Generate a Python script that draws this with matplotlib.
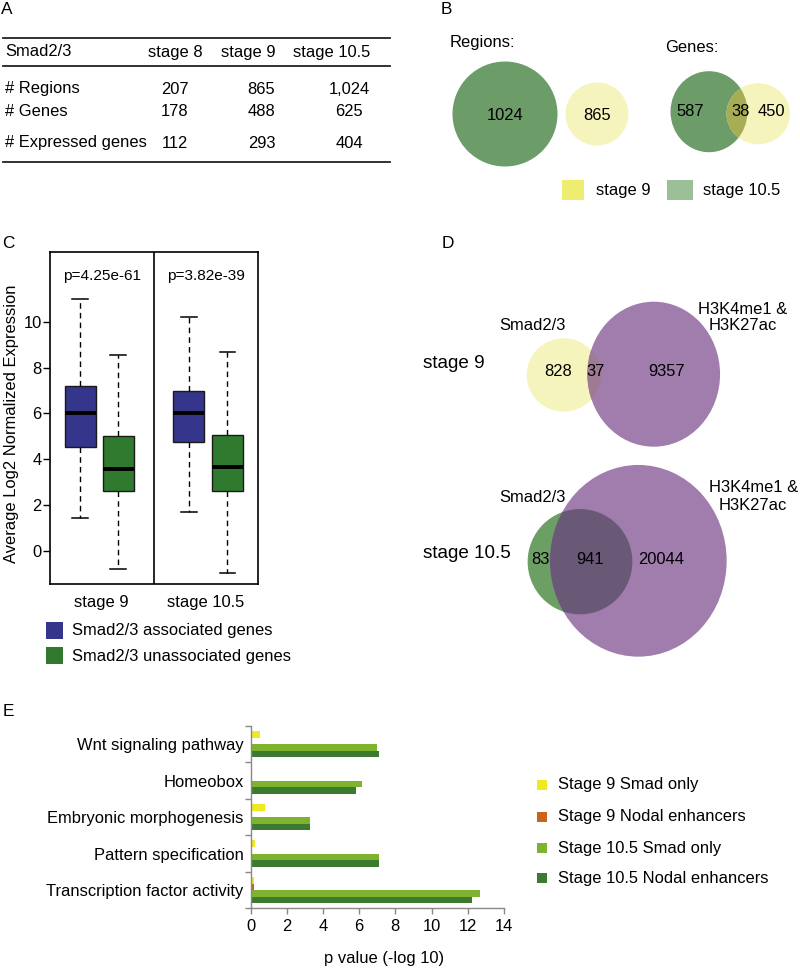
"""
Smad2/3 binding summary figure: table (A), Venn diagrams (B, D),
expression boxplots (C) and enrichment bar chart (E).
Layout is laid out in pixel units on an 800 x 968 canvas.
"""

import matplotlib
matplotlib.use("Agg")
import matplotlib.pyplot as plt
import numpy as np
from matplotlib.patches import Ellipse, Rectangle

plt.rcParams["font.family"] = ["Liberation Sans", "DejaVu Sans"]

FS = 11.9
FS_STAGE = 13.6
FIG_W, FIG_H = 800, 968

# ---------------- data ----------------
# A: table
table_cols = ["stage 8", "stage 9", "stage 10.5"]
table_rows = ["# Regions", "# Genes", "# Expressed genes"]
table_vals = [
    ["207", "865", "1,024"],
    ["178", "488", "625"],
    ["112", "293", "404"],
]

# B: Venn counts
regions_counts = [1024, 865]          # stage 10.5, stage 9 (no overlap)
genes_counts = [587, 38, 450]         # 10.5 only, shared, 9 only

# C: box statistics (whislo, q1, med, q3, whishi)
box_groups = ["stage 9", "stage 10.5"]
box_series = ["Smad2/3 associated genes", "Smad2/3 unassociated genes"]
box_stats = [
    [1.44, 4.54, 6.04, 7.20, 10.99],   # stage 9 associated
    [-0.80, 2.62, 3.58, 5.00, 8.56],   # stage 9 unassociated
    [1.68, 4.75, 6.01, 6.99, 10.22],   # stage 10.5 associated
    [-0.99, 2.59, 3.64, 5.04, 8.69],   # stage 10.5 unassociated
]
pvals = ["p=4.25e-61", "p=3.82e-39"]

# D: Venn counts (Smad only, shared, H3K4me1&H3K27ac only)
d_stage9 = [828, 37, 9357]
d_stage105 = [83, 941, 20044]

# E: enrichment
categories = [
    "Wnt signaling pathway",
    "Homeobox",
    "Embryonic morphogenesis",
    "Pattern specification",
    "Transcription factor activity",
]
series_names = [
    "Stage 9 Smad only",
    "Stage 9 Nodal enhancers",
    "Stage 10.5 Smad only",
    "Stage 10.5 Nodal enhancers",
]
s9_smad = [0.55, 0.0, 0.80, 0.25, 0.20]
s9_nodal = [0.0, 0.10, 0.0, 0.0, 0.20]
s105_smad = [7.01, 6.15, 3.26, 7.12, 12.68]
s105_nodal = [7.09, 5.83, 3.26, 7.12, 12.22]

# ---------------- colours ----------------
C_YEL_V = "#f6f4bd"
C_GRN_V = "#6c9d69"
C_YG_OV = "#a6ad55"
C_PUR = "#a07dad"
C_YP_OV = "#9e7b92"
C_GRN_D = "#6b9f63"
C_GP_OV = "#6a5877"
C_BOX_BLUE = "#35358c"
C_BOX_GRN = "#2f7a2f"
E_COLORS = ["#eeea22", "#c8641e", "#7db32f", "#3c7a30"]


def fig_rect(left, top, right, bottom):
    return [left / FIG_W, 1 - bottom / FIG_H, (right - left) / FIG_W, (bottom - top) / FIG_H]


def venn2(ax, c1, c2, col1, col2, col_ov):
    """c = (x, y, w, h) in pixels; second circle drawn on top, overlap clipped."""
    e1 = Ellipse(c1[:2], c1[2], c1[3], facecolor=col1, edgecolor="none")
    e2 = Ellipse(c2[:2], c2[2], c2[3], facecolor=col2, edgecolor="none")
    ax.add_patch(e1)
    ax.add_patch(e2)
    ov = Ellipse(c2[:2], c2[2], c2[3], facecolor=col_ov, edgecolor="none")
    ax.add_patch(ov)
    ov.set_clip_path(e1)


fig = plt.figure(figsize=(FIG_W / 100, FIG_H / 100), dpi=100)
bg = fig.add_axes([0, 0, 1, 1])
bg.set_xlim(0, FIG_W)
bg.set_ylim(FIG_H, 0)
bg.axis("off")

# panel letters
for letter, (x, y) in zip("ABCDE", [(7, 9), (446, 10), (8, 243), (448, 243), (8, 711)]):
    bg.text(x, y, letter, fontsize=FS + 0.5, ha="center", va="center")

# ---------------- A: table ----------------
for yl in (38, 66, 162):
    bg.plot([3, 390], [yl, yl], color="#222222", lw=1.3)
bg.text(5, 52, "Smad2/3", fontsize=FS, va="center")
for x, c in zip([148, 221, 293], table_cols):
    bg.text(x, 52, c, fontsize=FS, va="center")
for yr, rlab, vals in zip([89, 112, 143], table_rows, table_vals):
    bg.text(5, yr, rlab, fontsize=FS, va="center")
    for x, v in zip([174.5, 261.5, 349], vals):
        bg.text(x, yr, v, fontsize=FS, va="center", ha="center")

# ---------------- B: Venns ----------------
bg.text(450, 43, "Regions:", fontsize=FS, va="center")
bg.add_patch(Ellipse((505, 114), 105, 105, facecolor=C_GRN_V, edgecolor="none"))
bg.add_patch(Ellipse((597, 114), 63, 63, facecolor=C_YEL_V, edgecolor="none"))
bg.text(505, 115, str(regions_counts[0]), fontsize=FS, ha="center", va="center")
bg.text(597, 115, str(regions_counts[1]), fontsize=FS, ha="center", va="center")

bg.text(665, 48, "Genes:", fontsize=FS, va="center")
venn2(bg, (709, 111.7, 77, 81), (758.3, 113.8, 63.5, 61), C_GRN_V, C_YEL_V, C_YG_OV)
for x, v in zip([690, 741, 771], genes_counts):
    bg.text(x, 111, str(v), fontsize=FS, ha="center", va="center")

bg.add_patch(Rectangle((562, 180), 22, 20, facecolor="#efed6f", edgecolor="none"))
bg.text(596, 190, "stage 9", fontsize=FS, va="center")
bg.add_patch(Rectangle((667, 180), 26, 20, facecolor="#9bbf97", edgecolor="none"))
bg.text(703, 190, "stage 10.5", fontsize=FS, va="center")

# ---------------- C: boxplot ----------------
axc = fig.add_axes(fig_rect(50, 252, 258, 584))
positions = [0.58, 1.31, 2.67, 3.41]
stats = []
for s in box_stats:
    stats.append(dict(whislo=s[0], q1=s[1], med=s[2], q3=s[3], whishi=s[4], fliers=[]))
bp = axc.bxp(
    stats,
    positions=positions,
    widths=0.6,
    capwidths=0.3,
    patch_artist=True,
    showfliers=False,
    boxprops=dict(edgecolor="#1a1a1a", linewidth=1.0),
    medianprops=dict(color="black", linewidth=2.8),
    whiskerprops=dict(color="black", linewidth=1.0, linestyle=(0, (4, 3))),
    capprops=dict(color="black", linewidth=1.1),
)
for patch, col in zip(bp["boxes"], [C_BOX_BLUE, C_BOX_GRN] * 2):
    patch.set_facecolor(col)
axc.set_xlim(0, 4)
axc.set_ylim(-1.45, 13.05)
axc.axvline(2, color="black", lw=1.2)
axc.set_yticks([0, 2, 4, 6, 8, 10])
axc.set_xticks([])
axc.tick_params(axis="y", length=5, width=1, pad=1, labelsize=FS)
for sp in axc.spines.values():
    sp.set_linewidth(1.2)
for xg, p in zip([1.0, 3.0], pvals):
    axc.text(xg, 12.0, p, fontsize=11.1, ha="center", va="center")
for x, g in zip([101, 206], box_groups):
    bg.text(x, 602, g, fontsize=FS, ha="center", va="center")
bg.text(12, 424, "Average Log2 Normalized Expression", fontsize=FS,
        rotation=90, ha="center", va="center")
for yc, col, lab in zip([630, 655], [C_BOX_BLUE, C_BOX_GRN], box_series):
    bg.add_patch(Rectangle((46, yc - 8.5), 17, 17, facecolor=col, edgecolor="none"))
    bg.text(71.5, yc + 1, lab, fontsize=FS, va="center")

# ---------------- D: Venns ----------------
bg.text(423, 363, "stage 9", fontsize=FS_STAGE, va="center")
bg.text(532, 325, "Smad2/3", fontsize=FS, ha="center", va="center")
bg.text(743, 309, "H3K4me1 &", fontsize=FS, ha="center", va="center")
bg.text(743, 326, "H3K27ac", fontsize=FS, ha="center", va="center")
venn2(bg, (563.8, 375, 74.3, 73.3), (653.7, 374.2, 132.7, 145), C_YEL_V, C_PUR, C_YP_OV)
for x, v in zip([558, 596, 666.7], d_stage9):
    bg.text(x, 372, str(v), fontsize=FS, ha="center", va="center")

bg.text(423, 554, "stage 10.5", fontsize=FS_STAGE, va="center")
bg.text(532, 497, "Smad2/3", fontsize=FS, ha="center", va="center")
bg.text(754, 487, "H3K4me1 &", fontsize=FS, ha="center", va="center")
bg.text(753, 505, "H3K27ac", fontsize=FS, ha="center", va="center")
venn2(bg, (580, 561.7, 104.7, 105.3), (638.3, 560.8, 176.7, 191.7), C_GRN_D, C_PUR, C_GP_OV)
for x, v in zip([540.7, 590, 660.7], d_stage105):
    bg.text(x, 560, str(v), fontsize=FS, ha="center", va="center")

# ---------------- E: bar chart ----------------
axe = fig.add_axes(fig_rect(250.5, 726, 504, 908.3))
yy = np.arange(len(categories))
offsets = [-0.27, -0.09, 0.09, 0.27]
for vals, off, col in zip([s9_smad, s9_nodal, s105_smad, s105_nodal], offsets, E_COLORS):
    axe.barh(yy + off, vals, height=0.18, color=col, edgecolor="none")
axe.set_xlim(0, 14)
axe.set_ylim(len(categories) - 0.5, -0.5)
axe.set_xticks(np.arange(0, 15, 2))
axe.set_yticks(np.arange(-0.5, len(categories), 1.0))
axe.set_yticklabels([])
axe.set_yticks(yy, minor=True)
axe.set_yticklabels(categories, minor=True)
axe.tick_params(axis="y", which="major", length=4, color="#888888", width=1)
axe.tick_params(axis="y", which="minor", length=0, pad=5, labelsize=FS)
axe.tick_params(axis="x", length=4, color="#888888", width=1, pad=4, labelsize=FS)
for side in ("top", "right"):
    axe.spines[side].set_visible(False)
for side in ("left", "bottom"):
    axe.spines[side].set_color("#888888")
    axe.spines[side].set_linewidth(1.0)
bg.text(384, 958, "p value (-log 10)", fontsize=FS, ha="center", va="center")

for yc, col, lab in zip([785, 816.7, 848.3, 878.3], E_COLORS, series_names):
    bg.add_patch(Rectangle((537, yc - 5), 10, 10, facecolor=col, edgecolor="none"))
    bg.text(558.3, yc, lab, fontsize=FS, va="center")

fig.savefig("out.png", dpi=100)
